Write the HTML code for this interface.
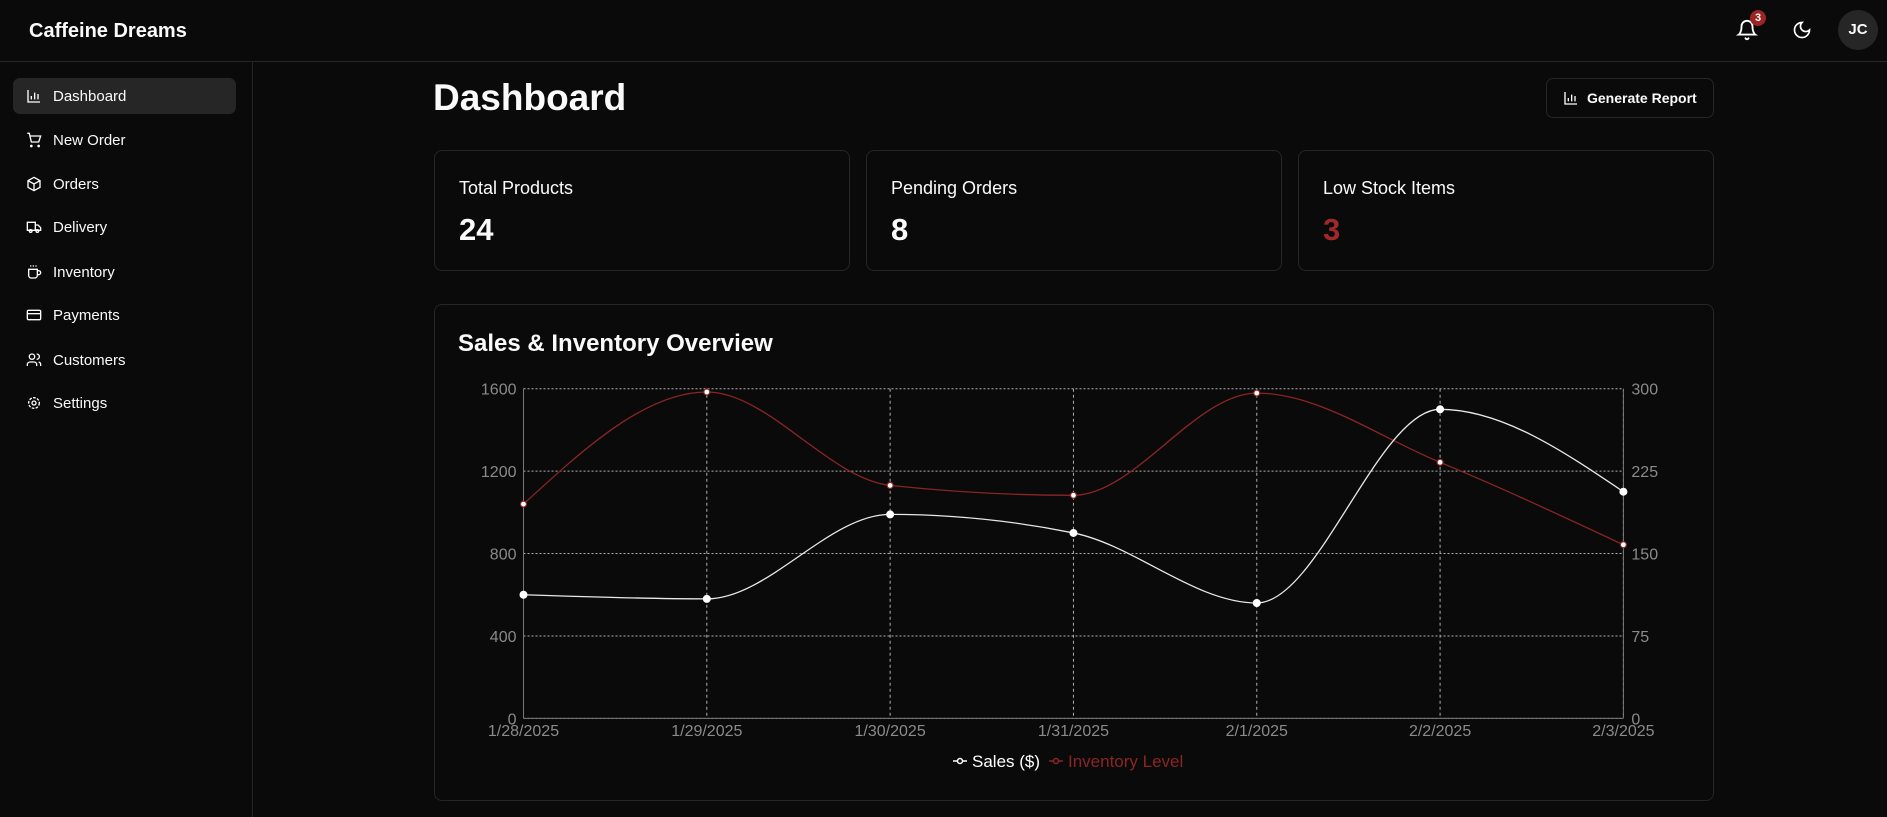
<!DOCTYPE html>
<html><head><meta charset="utf-8">
<style>
*{box-sizing:border-box;margin:0;padding:0}
body{width:1887px;height:817px;background:#0a0a0a;color:#fafafa;font-family:"Liberation Sans",sans-serif;position:relative;overflow:hidden}
.abs{position:absolute}
.nav{position:absolute;left:13px;width:223px;height:36px;display:flex;align-items:center;font-size:15px;border-radius:7px}
.nav svg{position:absolute;left:13px;top:10px}
.nav span{position:absolute;left:40px}
.card{position:absolute;border:1px solid #262626;border-radius:8px;background:#0a0a0a}
.lbl{position:absolute;left:24px;top:27px;font-size:18px}
.val{position:absolute;left:24px;top:61px;font-size:31px;font-weight:bold}
</style></head><body>
<div class="abs" style="left:0;top:0;width:1887px;height:62px;border-bottom:1px solid #262626"></div>
<div class="abs" style="left:29px;top:20px;font-size:20px;font-weight:bold">Caffeine Dreams</div>
<svg class="abs" style="left:1736px;top:19px" width="22" height="22" viewBox="0 0 24 24" fill="none" stroke="#fff" stroke-width="2" stroke-linecap="round"><path d="M6 8a6 6 0 0 1 12 0c0 7 3 9 3 9H3s3-2 3-9"/><path d="M10.3 21a1.94 1.94 0 0 0 3.4 0"/></svg>
<div class="abs" style="left:1750px;top:10px;width:16px;height:16px;border-radius:8px;background:#9b2424;font-size:11px;font-weight:bold;text-align:center;line-height:16px">3</div>
<svg class="abs" style="left:1792px;top:20px" width="20" height="20" viewBox="0 0 24 24" fill="none" stroke="#fff" stroke-width="2"><path d="M12 3a6 6 0 0 0 9 9 9 9 0 1 1-9-9Z"/></svg>
<div class="abs" style="left:1838px;top:10px;width:40px;height:40px;border-radius:20px;background:#262626;font-size:15px;font-weight:bold;text-align:center;line-height:40px">JC</div>
<div class="abs" style="left:0;top:62px;width:253px;height:755px;border-right:1px solid #262626"></div>

<div class="nav" style="top:78px;background:#262626"><svg width="16" height="16" viewBox="0 0 24 24" fill="none" stroke="#fff" stroke-width="2"><path d="M3 3v18h18M8 17v-5M13 17V7M18 17v-8"/></svg><span>Dashboard</span></div>
<div class="nav" style="top:122px"><svg width="16" height="16" viewBox="0 0 24 24" fill="none" stroke="#fff" stroke-width="2"><circle cx="8" cy="21" r="1"/><circle cx="19" cy="21" r="1"/><path d="M2 2h3l3 13h11l3-9H6"/></svg><span>New Order</span></div>
<div class="nav" style="top:166px"><svg width="16" height="16" viewBox="0 0 24 24" fill="none" stroke="#fff" stroke-width="2"><path d="M12 2l9 5v10l-9 5-9-5V7zM3 7l9 5 9-5M12 12v10"/></svg><span>Orders</span></div>
<div class="nav" style="top:209px"><svg width="16" height="16" viewBox="0 0 24 24" fill="none" stroke="#fff" stroke-width="2"><path d="M2 5h12v12H2zM14 9h4l4 4v4h-8"/><circle cx="7" cy="18" r="2"/><circle cx="17" cy="18" r="2"/></svg><span>Delivery</span></div>
<div class="nav" style="top:254px"><svg width="16" height="16" viewBox="0 0 24 24" fill="none" stroke="#fff" stroke-width="2"><path d="M4 8h13v9a4 4 0 0 1-4 4H8a4 4 0 0 1-4-4zM17 10h2a2 2 0 0 1 0 6h-2M7 2v2M11 2v2M15 2v2"/></svg><span>Inventory</span></div>
<div class="nav" style="top:297px"><svg width="16" height="16" viewBox="0 0 24 24" fill="none" stroke="#fff" stroke-width="2"><rect x="2" y="5" width="20" height="14" rx="2"/><path d="M2 10h20"/></svg><span>Payments</span></div>
<div class="nav" style="top:342px"><svg width="16" height="16" viewBox="0 0 24 24" fill="none" stroke="#fff" stroke-width="2"><circle cx="9" cy="7" r="4"/><path d="M2 21v-2a4 4 0 0 1 4-4h6a4 4 0 0 1 4 4v2M16 3a4 4 0 0 1 0 8M22 21v-2a4 4 0 0 0-3-4"/></svg><span>Customers</span></div>
<div class="nav" style="top:385px"><svg width="16" height="16" viewBox="0 0 24 24" fill="none" stroke="#fff" stroke-width="2"><circle cx="12" cy="12" r="3"/><circle cx="12" cy="12" r="8" stroke-dasharray="4 2"/></svg><span>Settings</span></div>

<div class="abs" style="left:433px;top:77px;font-size:37px;font-weight:bold">Dashboard</div>
<div class="abs" style="left:1546px;top:78px;width:168px;height:40px;border:1px solid #262626;border-radius:7px;font-size:14px;font-weight:bold;line-height:38px;padding-left:40px">Generate Report
<svg class="abs" style="left:16px;top:11px" width="16" height="16" viewBox="0 0 24 24" fill="none" stroke="#fff" stroke-width="2"><path d="M3 3v18h18M8 17v-5M13 17V7M18 17v-8"/></svg></div>

<div class="card" style="left:434px;top:150px;width:416px;height:121px"><div class="lbl">Total Products</div><div class="val">24</div></div>
<div class="card" style="left:866px;top:150px;width:416px;height:121px"><div class="lbl">Pending Orders</div><div class="val">8</div></div>
<div class="card" style="left:1298px;top:150px;width:416px;height:121px"><div class="lbl">Low Stock Items</div><div class="val" style="color:#a02828">3</div></div>

<div class="card" style="left:434px;top:304px;width:1280px;height:497px"></div>
<div class="abs" style="left:458px;top:330px;font-size:24px;font-weight:bold">Sales &amp; Inventory Overview</div>
<svg class="abs" id="chart" style="left:0;top:0" width="1887" height="817" font-family="Liberation Sans, sans-serif"></svg>

<script>
const categories=["1/28/2025","1/29/2025","1/30/2025","1/31/2025","2/1/2025","2/2/2025","2/3/2025"];
const salesValues=[600,580,990,900,560,1500,1100];
const inventoryValues=[195,297,212,203,296,233,158];
const leftTicks=[0,400,800,1200,1600];
const rightTicks=[0,75,150,225,300];
const leftMax=1600, rightMax=300;

const NS="http://www.w3.org/2000/svg";
const svg=document.getElementById('chart');
const L=523.5,R=1623.4,T=388.7,B=718.4;
const xAt=i=>L+(R-L)*i/(categories.length-1);
const yL=v=>B-(B-T)*v/leftMax;
const yR=v=>B-(B-T)*v/rightMax;
function mk(tag,attrs,parent){const e=document.createElementNS(NS,tag);for(const k in attrs)e.setAttribute(k,attrs[k]);(parent||svg).appendChild(e);return e;}

const grid=mk('g',{});


leftTicks.forEach(t=>{mk('line',{x1:L,x2:R,y1:yL(t),y2:yL(t),stroke:'#b0b0b0','stroke-dasharray':'2 2'},grid);});
categories.forEach((c,i)=>{mk('line',{x1:xAt(i),x2:xAt(i),y1:T,y2:B,stroke:'#b0b0b0','stroke-dasharray':'3 3'},grid);});
mk('line',{x1:L,x2:L,y1:T,y2:B,stroke:'#777'});
mk('line',{x1:R,x2:R,y1:T,y2:B,stroke:'#777'});
mk('line',{x1:L,x2:R,y1:B,y2:B,stroke:'#777'});

leftTicks.forEach(t=>{const e=mk('text',{x:L-7,y:yL(t)+6,'text-anchor':'end','font-size':16,fill:'#8a8a8a'});e.textContent=t;

});
rightTicks.forEach(t=>{const e=mk('text',{x:R+8,y:yR(t)+6,'text-anchor':'start','font-size':16,fill:'#8a8a8a'});e.textContent=t;

});
categories.forEach((c,i)=>{const e=mk('text',{x:xAt(i),y:736,'text-anchor':'middle','font-size':16,fill:'#8a8a8a'});e.textContent=c;

});

function monotonePath(xs,ys){
  const n=xs.length,s=[],m=[];
  for(let i=0;i<n-1;i++)s.push((ys[i+1]-ys[i])/(xs[i+1]-xs[i]));
  for(let i=1;i<n-1;i++){const h0=xs[i]-xs[i-1],h1=xs[i+1]-xs[i],s0=s[i-1],s1=s[i],p=(s0*h1+s1*h0)/(h0+h1);
    m[i]=(Math.sign(s0)+Math.sign(s1))*Math.min(Math.abs(s0),Math.abs(s1),0.5*Math.abs(p))||0;}
  m[0]=(3*s[0]-m[1])/2;m[n-1]=(3*s[n-2]-m[n-2])/2;
  let d='M'+xs[0]+','+ys[0];
  for(let i=0;i<n-1;i++){const dx=(xs[i+1]-xs[i])/3;
    d+=' C'+(xs[i]+dx)+','+(ys[i]+dx*m[i])+' '+(xs[i+1]-dx)+','+(ys[i+1]-dx*m[i+1])+' '+xs[i+1]+','+ys[i+1];}
  return d;
}
const xs=categories.map((c,i)=>xAt(i));
const inv=mk('path',{d:monotonePath(xs,inventoryValues.map(yR)),fill:'none',stroke:'#8b2525','stroke-width':1.3});


const sal=mk('path',{d:monotonePath(xs,salesValues.map(yL)),fill:'none',stroke:'#e8e8e8','stroke-width':1.3});


inventoryValues.forEach((v,i)=>{const c=mk('circle',{cx:xAt(i),cy:yR(v),r:3,fill:'#fff',stroke:'#8b2525','stroke-width':1.2});

});
salesValues.forEach((v,i)=>{const c=mk('circle',{cx:xAt(i),cy:yL(v),r:3.5,fill:'#fff',stroke:'#fff'});

});

const lg=mk('g',{});


mk('line',{x1:953,x2:967,y1:761,y2:761,stroke:'#fff','stroke-width':1.5},lg);
mk('circle',{cx:960,cy:761,r:2.5,fill:'#0a0a0a',stroke:'#fff','stroke-width':1.5},lg);
const t1=mk('text',{x:972,y:767,'font-size':17,fill:'#fff'},lg);t1.textContent='Sales ($)';


mk('line',{x1:1049,x2:1063,y1:761,y2:761,stroke:'#8b2525','stroke-width':1.5},lg);
mk('circle',{cx:1056,cy:761,r:2.5,fill:'#0a0a0a',stroke:'#8b2525','stroke-width':1.5},lg);
const t2=mk('text',{x:1068,y:767,'font-size':17,fill:'#8b2525'},lg);t2.textContent='Inventory Level';


</script>
</body></html>
